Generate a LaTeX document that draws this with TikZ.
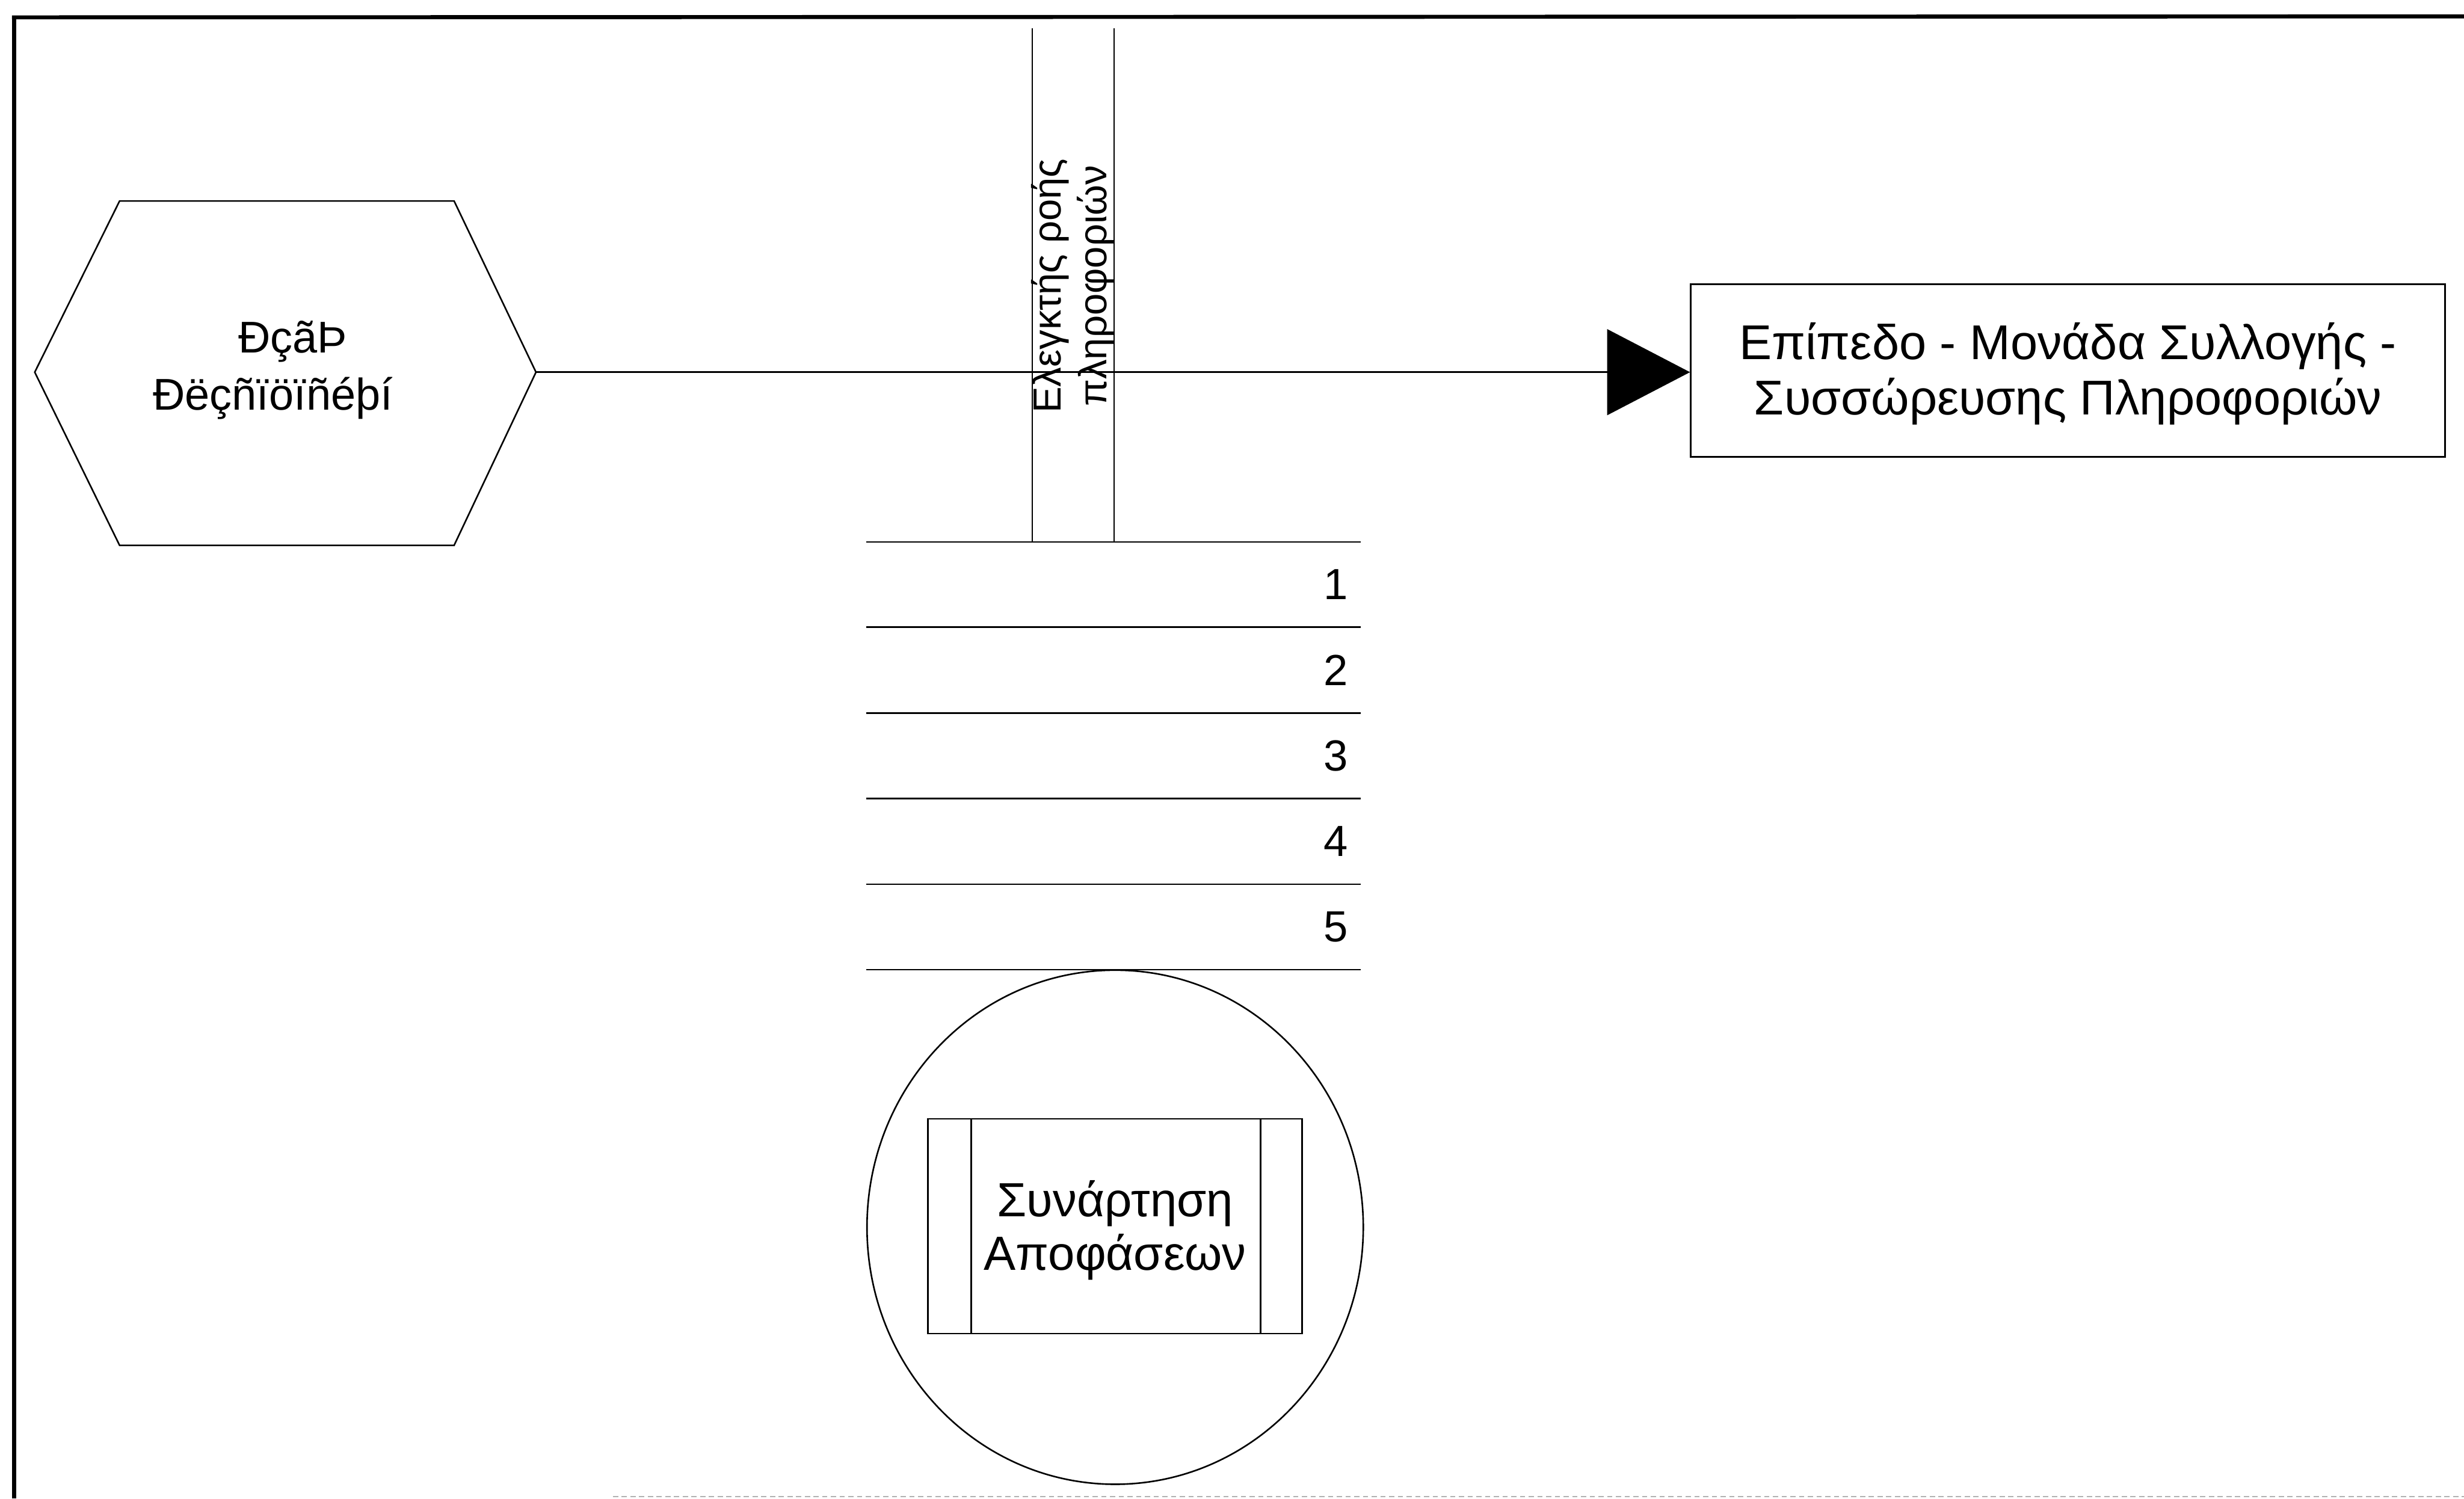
\documentclass[tikz,border=0pt]{standalone}
\usepackage{fontspec}
\setmainfont{Liberation Sans}
\usetikzlibrary{arrows.meta}

\tikzset{
    thinline/.style={line width=0.9pt},
    txt/.style={align=center, inner sep=0pt},
}

\begin{document}
\begin{tikzpicture}[thinline]
                \useasboundingbox (0,0) rectangle (49.65,-30.20);

                \draw[line width=2.4pt] (0.28,-30.20) -- (0.28,-0.32);
                \draw[line width=2.3pt] (0.24,-0.35) -- (49.65,-0.33);
                \draw[gray!60, line width=0.6pt, densely dashed] (12.35,-30.16) -- (49.65,-30.16);

                \draw[] (0.70,-7.50) -- (2.41,-4.05) -- (9.15,-4.05) -- (10.80,-7.50)
                    -- (9.15,-10.99) -- (2.41,-10.99) -- cycle;
                \coordinate (hexE) at (10.80,-7.50);
                \node[txt, font=\fontsize{25.5}{33}\selectfont] (src) at (5.50,-7.46) {\hspace*{0.8cm}ÐçãÞ\\Ðëçñïöïñéþí};

                \node[draw, minimum width=15.20cm, minimum height=3.48cm] (info) at (41.67,-7.47) {};
                \node[txt, font=\fontsize{28}{31.6}\selectfont] (infotext) at ([yshift=-0.06cm]info.center) {Επίπεδο - Μονάδα Συλλογής -\\Συσσώρευσης Πληροφοριών};
                \draw[-{Triangle[length=1.67cm, width=1.73cm]}] (hexE) -- (hexE -| info.west);

                \coordinate (colA) at (20.80,-0.57);
                \coordinate (colB) at (22.45,-0.57);
                \draw[] (colA) -- (colA |- 0,-10.92);
                \draw[] (colB) -- (colB |- 0,-10.92);
                \node[txt, rotate=90, font=\fontsize{22.5}{26}\selectfont] (ctrl) at (21.62,-5.76) {Ελεγκτής ροής\\πληροφοριών};

                \foreach \y [count=\i] in {10.92,12.64,14.37,16.09,17.82} {
                    \draw[] (17.45,-\y) -- (27.42,-\y);
                    \node[txt, font=\fontsize{25}{30}\selectfont] (num\i) at (26.92,-\y-0.86) {\i};
                }
                \draw[] (17.45,-19.54) -- (27.42,-19.54);

                \draw[] (22.47,-24.73) ellipse [x radius=5.00, y radius=5.18];
                \node[draw, minimum width=7.54cm, minimum height=4.33cm] (func) at (22.47,-24.71) {};
                \draw[] (19.57,-22.55) -- (19.57,-26.88);
                \draw[] (25.40,-22.55) -- (25.40,-26.88);
                \node[txt, font=\fontsize{27.5}{30.7}\selectfont] (functext) at ([yshift=-0.08cm]func.center) {Συνάρτηση\\Αποφάσεων};
            \end{tikzpicture}
\end{document}
